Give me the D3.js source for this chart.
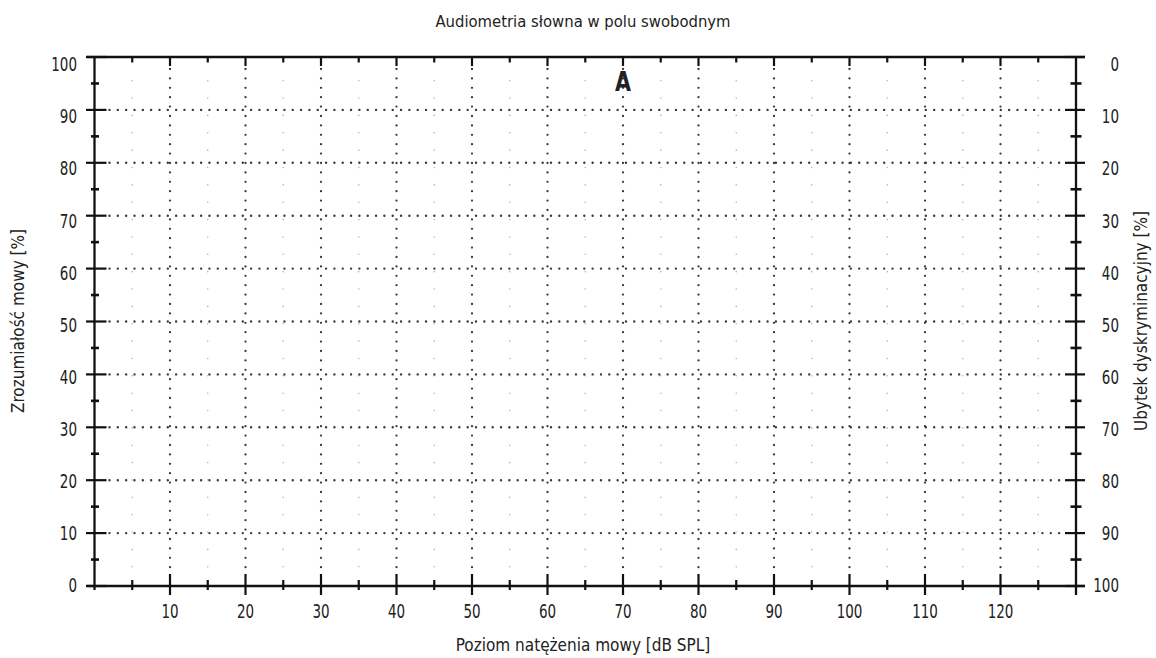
<!DOCTYPE html>
<html>
<head>
<meta charset="utf-8">
<script src="https://cdn.jsdelivr.net/npm/d3@7"></script>
<style>
  html, body { margin: 0; padding: 0; background: #fff; }
  svg { display: block; }
  text { font-family: "DejaVu Sans Condensed", "DejaVu Sans", sans-serif; fill: #222; }
</style>
</head>
<body>
<svg id="chart" width="1156" height="658"></svg>
<script>
// ---- data ----
const title = "Audiometria słowna w polu swobodnym";
const xTitle = "Poziom natężenia mowy [dB SPL]";
const yTitleLeft = "Zrozumiałość mowy [%]";
const yTitleRight = "Ubytek dyskryminacyjny [%]";
const xDomain = [0, 130];
const yDomain = [0, 100];
const xTickLabels = [10, 20, 30, 40, 50, 60, 70, 80, 90, 100, 110, 120];
const xMajorTicks = [10, 20, 30, 40, 50, 60, 70, 80, 90, 100, 110, 120];
const xMinorTicks = [5, 15, 25, 35, 45, 55, 65, 75, 85, 95, 105, 115, 125];
const yLeftTickLabels = [0, 10, 20, 30, 40, 50, 60, 70, 80, 90, 100];
const yRightTickLabels = [100, 90, 80, 70, 60, 50, 40, 30, 20, 10, 0];
const yMajorTicks = [0, 10, 20, 30, 40, 50, 60, 70, 80, 90, 100];
const yMinorTicks = [5, 15, 25, 35, 45, 55, 65, 75, 85, 95];
const yGridLines = [10, 20, 30, 40, 50, 60, 70, 80, 90];
const markerLabels = ["A"];
const markerX = [70];
const markerY = [93.5];

// ---- layout ----
const svg = d3.select("#chart");
const x = d3.scaleLinear().domain(xDomain).range([94.5, 1076]);
const y = d3.scaleLinear().domain(yDomain).range([586, 57]);
const yLab = d3.scaleLinear().domain(yDomain).range([585, 64]);
const X0 = x(xDomain[0]), X1 = x(xDomain[1]);
const Y0 = y(yDomain[0]), Y1 = y(yDomain[1]);
const ink = "#111";
const condense = 0.75;

// minor vertical grid (light dots)
svg.append("g").selectAll("line").data(xMinorTicks).join("line")
  .attr("x1", d => x(d)).attr("x2", d => x(d))
  .attr("y1", Y1 + 23.7).attr("y2", Y0 - 5)
  .attr("stroke", "#b5b5b5").attr("stroke-width", 1.6)
  .attr("stroke-linecap", "round").attr("stroke-dasharray", "0 17.36");

// major grid vertical
svg.append("g").selectAll("line").data(xMajorTicks).join("line")
  .attr("x1", d => x(d)).attr("x2", d => x(d))
  .attr("y1", Y1 + 12).attr("y2", Y0 - 13)
  .attr("stroke", "#3a3a3a").attr("stroke-width", 2.3)
  .attr("stroke-linecap", "round").attr("stroke-dasharray", "0 9.4");

// major grid horizontal
svg.append("g").selectAll("line").data(yGridLines).join("line")
  .attr("x1", X0 + 15).attr("x2", X1 - 13)
  .attr("y1", d => y(d)).attr("y2", d => y(d))
  .attr("stroke", "#3a3a3a").attr("stroke-width", 2.4)
  .attr("stroke-linecap", "round").attr("stroke-dasharray", "0 8.33");

// frame lines
const frame = svg.append("g").attr("stroke", ink).attr("stroke-width", 2.3).attr("fill", "none");
frame.append("line").attr("x1", X0 - 8).attr("x2", X1 + 9).attr("y1", Y1).attr("y2", Y1);
frame.append("line").attr("x1", X0 - 8).attr("x2", X1 + 9).attr("y1", Y0).attr("y2", Y0);
frame.append("line").attr("x1", X0).attr("x2", X0).attr("y1", Y1).attr("y2", Y0 + 4);
frame.append("line").attr("x1", X1).attr("x2", X1).attr("y1", Y1).attr("y2", Y0 + 9);

// ticks
const ticks = svg.append("g").attr("stroke", ink).attr("stroke-width", 2.2);
ticks.append("g").selectAll("line").data(yMajorTicks).join("line")
  .attr("x1", X0 - 8.5).attr("x2", X0 + 12).attr("y1", d => y(d)).attr("y2", d => y(d));
ticks.append("g").selectAll("line").data(yMinorTicks).join("line")
  .attr("stroke-width", 2.6)
  .attr("x1", X0 - 3.5).attr("x2", X0 + 4.5).attr("y1", d => y(d)).attr("y2", d => y(d));
ticks.append("g").selectAll("line").data(yMajorTicks).join("line")
  .attr("x1", X1 - 11).attr("x2", X1 + 9).attr("y1", d => y(d)).attr("y2", d => y(d));
ticks.append("g").selectAll("line").data(yMinorTicks).join("line")
  .attr("stroke-width", 2.6)
  .attr("x1", X1 - 5.5).attr("x2", X1 + 5.5).attr("y1", d => y(d)).attr("y2", d => y(d));
ticks.append("g").selectAll("line").data(xMajorTicks).join("line")
  .attr("x1", d => x(d)).attr("x2", d => x(d)).attr("y1", Y0 - 12).attr("y2", Y0 + 9);
ticks.append("g").selectAll("line").data(xMinorTicks).join("line")
  .attr("x1", d => x(d)).attr("x2", d => x(d)).attr("y1", Y0 - 6).attr("y2", Y0 + 4);
ticks.append("g").selectAll("line").data(xMajorTicks).join("line")
  .attr("x1", d => x(d)).attr("x2", d => x(d)).attr("y1", Y1).attr("y2", Y1 + 9);
ticks.append("g").selectAll("line").data(xMinorTicks).join("line")
  .attr("x1", d => x(d)).attr("x2", d => x(d)).attr("y1", Y1).attr("y2", Y1 + 5.5);

// tick labels (condensed digits)
const lab = svg.append("g").style("font-size", "20px");
lab.append("g").selectAll("text").data(yLeftTickLabels).join("text")
  .attr("transform", d => `translate(77,${yLab(d)}) scale(${condense},1)`)
  .attr("dy", "0.36em").attr("text-anchor", "end").text(d => d);
lab.append("g").selectAll("text").data(yRightTickLabels).join("text")
  .attr("transform", (d, i) => `translate(1119,${yLab(yLeftTickLabels[i])}) scale(${condense},1)`)
  .attr("dy", "0.36em").attr("text-anchor", "end").text(d => d);
lab.append("g").selectAll("text").data(xTickLabels).join("text")
  .attr("transform", d => `translate(${x(d)},618) scale(${condense},1)`)
  .attr("text-anchor", "middle").text(d => d);

// titles
svg.append("text").attr("x", 583).attr("y", 27).attr("text-anchor", "middle")
  .style("font-size", "16.5px").text(title);
svg.append("text").attr("x", 583).attr("y", 651).attr("text-anchor", "middle")
  .style("font-size", "17px").text(xTitle);
svg.append("text").attr("transform", "translate(24,321) rotate(-90)")
  .attr("text-anchor", "middle").style("font-size", "17px").text(yTitleLeft);
svg.append("text").attr("transform", "translate(1147,321) rotate(-90)")
  .attr("text-anchor", "middle").style("font-size", "17px").text(yTitleRight);

// marker letters
svg.append("g").selectAll("text").data(markerLabels).join("text")
  .attr("transform", (d, i) => `translate(${x(markerX[i])},${y(markerY[i])}) scale(0.85,1)`)
  .attr("text-anchor", "middle").style("font-size", "27px").style("font-weight", "bold")
  .text(d => d);
</script>
</body>
</html>
